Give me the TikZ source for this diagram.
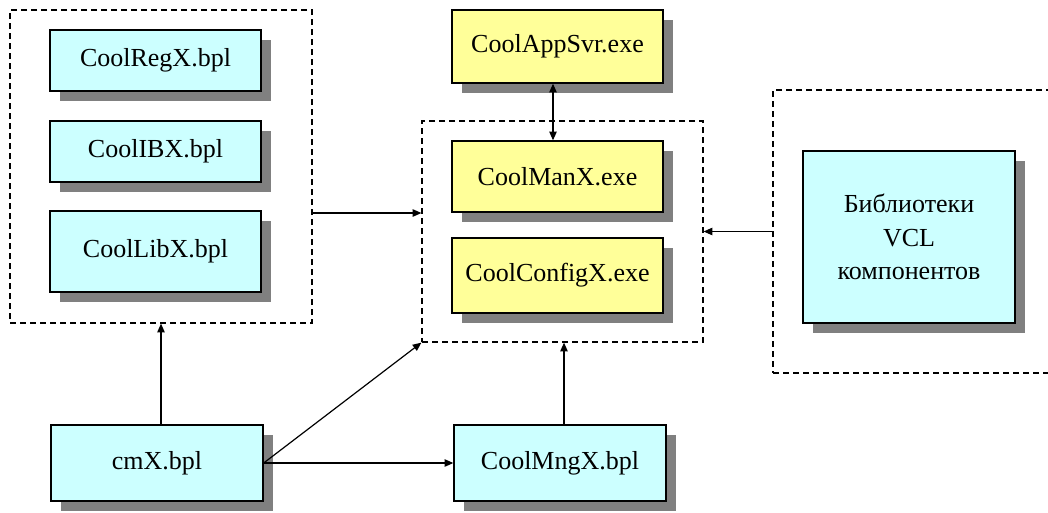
\documentclass[tikz,border=0pt]{standalone}
\usepackage{fontspec}
\setmainfont{Liberation Serif}
\usetikzlibrary{arrows.meta,shadows}
\definecolor{cyanfill}{HTML}{CCFFFF}
\definecolor{yelfill}{HTML}{FFFF99}
\definecolor{shadowgray}{HTML}{808080}
\begin{document}
\begin{tikzpicture}[x=0.75pt,y=-0.75pt,
  box/.style={draw=black,line width=1pt,inner sep=0pt,align=center,
    font=\fontsize{19.5}{25}\selectfont,
    drop shadow={shadow xshift=7.5pt,shadow yshift=-7.5pt,fill=shadowgray,opacity=1}},
  cbox/.style={box,fill=cyanfill},
  ybox/.style={box,fill=yelfill},
  group/.style={draw=black,line width=0.9pt,dash pattern=on 4.5pt off 3pt,inner sep=0pt},
  arr/.style={line width=0.9pt,-{Triangle[length=6.5pt,width=5.5pt]}},
  darr/.style={line width=0.9pt,{Triangle[length=6.5pt,width=5.5pt]}-{Triangle[length=6.5pt,width=5.5pt]}}]
\useasboundingbox[fill=white] (0,0) rectangle (1048,512);
% groups
\node[group,minimum width=0.75*302pt,minimum height=0.75*313pt] (lg) at (161,166.5) {};
\node[group,minimum width=0.75*281pt,minimum height=0.75*221pt] (mg) at (562.5,231.5) {};
\node[group,minimum width=0.75*283pt,minimum height=0.75*283pt] (rg) at (914.5,231.5) {};
% boxes
\node[cbox,minimum width=0.75*211pt,minimum height=0.75*61pt] (reg) at (155.5,60.5) {CoolRegX.bpl};
\node[cbox,minimum width=0.75*211pt,minimum height=0.75*61pt] (ibx) at (155.5,151.5) {CoolIBX.bpl};
\node[cbox,minimum width=0.75*211pt,minimum height=0.75*81pt] (lib) at (155.5,251.5) {CoolLibX.bpl};
\node[ybox,minimum width=0.75*211pt,minimum height=0.75*73pt] (app) at (557.5,46.5) {CoolAppSvr.exe};
\node[ybox,minimum width=0.75*211pt,minimum height=0.75*71pt] (man) at (557.5,176.5) {CoolManX.exe};
\node[ybox,minimum width=0.75*211pt,minimum height=0.75*75pt] (cfg) at (557.5,275.5) {CoolConfigX.exe};
\node[cbox,minimum width=0.75*212pt,minimum height=0.75*172pt] (vcl) at (909,237) {Библиотеки\\VCL\\компонентов};
\node[cbox,minimum width=0.75*212pt,minimum height=0.75*76pt] (cmx) at (157,463) {cmX.bpl};
\node[cbox,minimum width=0.75*212pt,minimum height=0.75*76pt] (mng) at (560,463) {CoolMngX.bpl};
% connectors
\coordinate (ly) at (0,213);
\draw[arr] (lg.east |- ly) -- (mg.west |- ly);
\draw[darr] (app.south -| 553,0) -- (man.north -| 553,0);
\draw[arr] (rg.west) -- (mg.east);
\coordinate (cx) at (161,0);
\draw[arr] (cmx.north -| cx) -- (lg.south -| cx);
\draw[arr] (cmx.east) -- (mg.south west);
\draw[arr] (cmx.east) -- (mng.west);
\coordinate (mx) at (564,0);
\draw[arr] (mng.north -| mx) -- (mg.south -| mx);
\end{tikzpicture}
\end{document}
